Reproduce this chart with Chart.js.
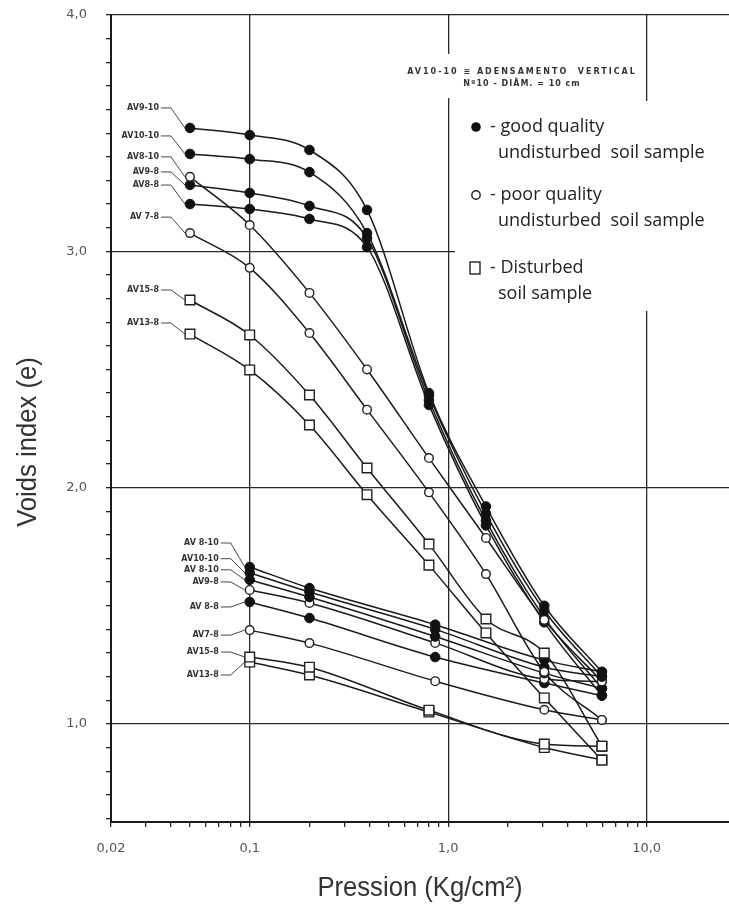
<!DOCTYPE html>
<html><head><meta charset="utf-8">
<script src="https://cdn.jsdelivr.net/npm/chart.js@4.4.1/dist/chart.umd.min.js"></script>
<style>html,body{margin:0;padding:0;background:#fff;overflow:hidden}canvas{display:block}</style>
</head><body>
<canvas id="c" width="729" height="908"></canvas>
<script>
// ---------- data ----------
// pressures (Kg/cm²)
const pressUpper = [0.05, 0.1, 0.2, 0.39, 0.8, 1.55, 3.05, 5.95];
const pressLowerCircle = [0.1, 0.2, 0.86, 3.05, 5.95];
const pressLowerSquare = [0.1, 0.2, 0.8, 3.05, 5.95];

// upper family (first load 0.05)
const upAV9_10  = [3.522, 3.492, 3.429, 3.175, 2.40, 1.92, 1.50, 1.22];
const upAV10_10 = [3.412, 3.390, 3.335, 3.077, 2.39, 1.89, 1.48, 1.20];
const upAV8_10  = [3.315, 3.111, 2.824, 2.50, 2.125, 1.787, 1.44, 1.18];
const upAV9_8   = [3.281, 3.247, 3.192, 3.056, 2.37, 1.86, 1.45, 1.15];
const upAV8_8   = [3.200, 3.179, 3.137, 3.018, 2.35, 1.84, 1.43, 1.12];
const upAV7_8   = [3.077, 2.930, 2.654, 2.33, 1.98, 1.634, 1.22, 1.017];
const upAV15_8  = [2.794, 2.646, 2.392, 2.083, 1.761, 1.444, 1.30, 0.906];
const upAV13_8  = [2.650, 2.498, 2.265, 1.97, 1.672, 1.385, 1.11, 0.847];

// lower family (first load 0.1)
const loAV8_10a = [1.664, 1.575, 1.42, 1.27, 1.22];
const loAV10_10 = [1.640, 1.558, 1.40, 1.24, 1.20];
const loAV8_10b = [1.610, 1.537, 1.37, 1.215, 1.15];
const loAV9_8   = [1.567, 1.512, 1.343, 1.19, 1.18];
const loAV8_8   = [1.516, 1.448, 1.283, 1.173, 1.12];
const loAV7_8   = [1.397, 1.342, 1.181, 1.06, 1.017];
const loAV15_8  = [1.283, 1.240, 1.058, 0.915, 0.906];
const loAV13_8  = [1.262, 1.207, 1.050, 0.900, 0.847];

// curve names
const upperNames = ["AV9-10", "AV10-10", "AV8-10", "AV9-8", "AV8-8", "AV 7-8", "AV15-8", "AV13-8"];
const lowerNames = ["AV 8-10", "AV10-10", "AV 8-10", "AV9-8", "AV 8-8", "AV7-8", "AV15-8", "AV13-8"];

// tick labels
const xMajorTicks = [0.02, 0.1, 1, 10];
const xTickLabels = ["0,02", "0,1", "1,0", "10,0"];
const yMajorTicks = [1, 2, 3, 4];
const yTickLabels = ["1,0", "2,0", "3,0", "4,0"];

// legend texts
const legendTexts = [["- good quality", "undisturbed  soil sample"], ["- poor quality", "undisturbed  soil sample"], ["- Disturbed", "soil sample"]];
const noteLines = ["AV10-10 \u2261 ADENSAMENTO  VERTICAL", "N\u00BA10 - DI\u00C2M. = 10 cm"];
const xTitle = "Pression (Kg/cm\u00B2)";
const yTitle = "Voids index (e)";

// ---------- styles ----------
const KIND = {
  filled: {pointStyle: 'circle', pointRadius: 4.8, pointBackgroundColor: '#111', pointBorderColor: '#111', pointBorderWidth: 1},
  open:   {pointStyle: 'circle', pointRadius: 4.3, pointBackgroundColor: '#fff', pointBorderColor: '#222', pointBorderWidth: 1.4},
  square: {pointStyle: 'rect',   pointRadius: 6.8, pointBackgroundColor: '#fff', pointBorderColor: '#222', pointBorderWidth: 1.4}
};
const upperSeries = [upAV9_10, upAV10_10, upAV8_10, upAV9_8, upAV8_8, upAV7_8, upAV15_8, upAV13_8];
const upperKinds = ['filled','filled','open','filled','filled','open','square','square'];
const upperLabelDy = [-20, -18, -20, -13, -19, -16, -10, -11];
const lowerSeries = [loAV8_10a, loAV10_10, loAV8_10b, loAV9_8, loAV8_8, loAV7_8, loAV15_8, loAV13_8];
const lowerKinds = ['filled','filled','filled','open','filled','open','square','square'];
const lowerPress = [pressLowerCircle, pressLowerCircle, pressLowerCircle, pressLowerCircle, pressLowerCircle, pressLowerCircle, pressLowerSquare, pressLowerSquare];
const lowerLabelDy = [-24, -14, -10, -8, 5, 5, -5, 13];

const datasets = [];
upperSeries.forEach((vals, i) => {
  datasets.push(Object.assign({
    label: upperNames[i], tag: upperNames[i], labelDy: upperLabelDy[i],
    data: vals.map((v, k) => ({x: pressUpper[k], y: v}))
  }, KIND[upperKinds[i]]));
});
lowerSeries.forEach((vals, i) => {
  datasets.push(Object.assign({
    label: lowerNames[i], tag: lowerNames[i], labelDy: lowerLabelDy[i],
    data: vals.map((v, k) => ({x: lowerPress[i][k], y: v}))
  }, KIND[lowerKinds[i]]));
});
datasets.forEach(d => {
  d.borderColor = '#1a1a1a'; d.borderWidth = 1.5; d.fill = false;
  d.cubicInterpolationMode = 'monotone'; d.showLine = true;
});

// minor tick lists
const xAllTicks = [];
[0.01, 0.1, 1].forEach(dec => { for (let m = 1; m <= 9; m++) { const v = +(dec * m).toPrecision(3); if (v >= 0.02 && v <= 10) xAllTicks.push(v); } });
xAllTicks.push(10);
const yAllTicks = [];
for (let k = 6; k <= 40; k++) yAllTicks.push(k / 10);

function isMajor(list, v) { return list.some(t => Math.abs(t - v) < 1e-6); }

const TITLE_FONT = '27px "Liberation Sans", Arial, sans-serif';

const annot = {
  id: 'annot',
  afterDatasetsDraw(chart) {
    const ctx = chart.ctx;
    const area = chart.chartArea;
    ctx.save();
    // white panels behind the note and the legend
    ctx.fillStyle = '#fff';
    ctx.fillRect(400, 54, 240, 44);
    ctx.fillRect(455, 101, 274, 210);

    // curve labels with leader lines
    ctx.font = 'bold 8px "DejaVu Sans"';
    ctx.fillStyle = '#333';
    ctx.strokeStyle = '#333';
    ctx.lineWidth = 0.9;
    ctx.textBaseline = 'middle';
    ctx.textAlign = 'right';
    chart.data.datasets.forEach((ds, i) => {
      const p = chart.getDatasetMeta(i).data[0];
      const tx = p.x - 31, ty = p.y + ds.labelDy;
      ctx.fillText(ds.tag, tx, ty);
      ctx.beginPath();
      ctx.moveTo(tx + 2, ty);
      ctx.lineTo(tx + 12, ty);
      ctx.lineTo(p.x - 5, p.y);
      ctx.stroke();
    });

    // note
    ctx.textAlign = 'center';
    ctx.font = 'bold 8px "DejaVu Sans"';
    ctx.fillStyle = '#333';
    ctx.letterSpacing = '2px';
    ctx.fillText(noteLines[0], 522, 72);
    ctx.letterSpacing = '1px';
    ctx.fillText(noteLines[1], 522, 84);
    ctx.letterSpacing = '0px';

    // legend
    ctx.textAlign = 'left';
    ctx.font = '18px "Open Sans"';
    ctx.fillStyle = '#222';
    const rows = [127, 195, 268];
    rows.forEach((ry, i) => {
      ctx.fillText(legendTexts[i][0], 490, ry);
      ctx.fillText(legendTexts[i][1], 498, ry + 26);
    });
    // legend markers
    ctx.lineWidth = 1.4; ctx.strokeStyle = '#222';
    ctx.beginPath(); ctx.arc(476, 127, 4.8, 0, Math.PI * 2); ctx.fillStyle = '#111'; ctx.fill();
    ctx.beginPath(); ctx.arc(476, 195, 4.2, 0, Math.PI * 2); ctx.fillStyle = '#fff'; ctx.fill(); ctx.stroke();
    ctx.fillStyle = '#fff'; ctx.fillRect(470, 262, 10, 12); ctx.strokeRect(470, 262, 10, 12);

    // axis titles
    ctx.fillStyle = '#333';
    ctx.font = TITLE_FONT;
    ctx.textAlign = 'center';
    ctx.textBaseline = 'middle';
    ctx.save();
    ctx.translate((area.left + area.right) / 2, 889);
    ctx.scale(0.95, 1);
    ctx.fillText(xTitle, 0, 0);
    ctx.restore();
    ctx.save();
    ctx.translate(29, 442);
    ctx.rotate(-Math.PI / 2);
    ctx.scale(0.95, 1);
    ctx.fillText(yTitle, 0, 0);
    ctx.restore();
    ctx.restore();
  }
};

new Chart(document.getElementById('c'), {
  type: 'line',
  data: {datasets},
  plugins: [annot],
  options: {
    responsive: false, animation: false, devicePixelRatio: 1,
    layout: {autoPadding: false, padding: {top: 15, right: 0, bottom: 0, left: 0}},
    plugins: {legend: {display: false}, tooltip: {enabled: false}},
    scales: {
      x: {
        type: 'logarithmic', min: 0.02, max: 26,
        afterBuildTicks: s => { s.ticks = xAllTicks.map(v => ({value: v})); },
        afterFit: s => { s.height = 86; s.paddingLeft = 0; s.paddingRight = 0; },
        ticks: {
          autoSkip: false, maxRotation: 0, padding: 14,
          color: '#555', font: {family: 'DejaVu Sans', size: 13},
          callback: (v) => { const i = xMajorTicks.findIndex(t => Math.abs(t - v) < 1e-9); return i >= 0 ? xTickLabels[i] : ''; }
        },
        grid: {
          color: c => (c.tick && isMajor([0.1, 1, 10], c.tick.value)) ? '#2a2a2a' : 'rgba(0,0,0,0)',
          tickColor: '#222', lineWidth: 1.3, tickLength: 5
        },
        border: {display: true, color: '#1a1a1a', width: 2},
        title: {display: false}
      },
      y: {
        type: 'linear', min: 0.585, max: 4.0,
        afterBuildTicks: s => { s.ticks = yAllTicks.map(v => ({value: v})); },
        afterFit: s => { s.width = 111; s.paddingTop = 0; s.paddingBottom = 0; },
        ticks: {
          autoSkip: false, padding: 19,
          color: '#555', font: {family: 'DejaVu Sans', size: 13},
          callback: (v) => { const i = yMajorTicks.findIndex(t => Math.abs(t - v) < 1e-9); return i >= 0 ? yTickLabels[i] : ''; }
        },
        grid: {
          color: c => (c.tick && isMajor(yMajorTicks, c.tick.value)) ? '#2a2a2a' : 'rgba(0,0,0,0)',
          tickColor: '#222', lineWidth: 1.3, tickLength: 5
        },
        border: {display: true, color: '#1a1a1a', width: 2},
        title: {display: false}
      }
    }
  }
});
</script>
</body></html>
